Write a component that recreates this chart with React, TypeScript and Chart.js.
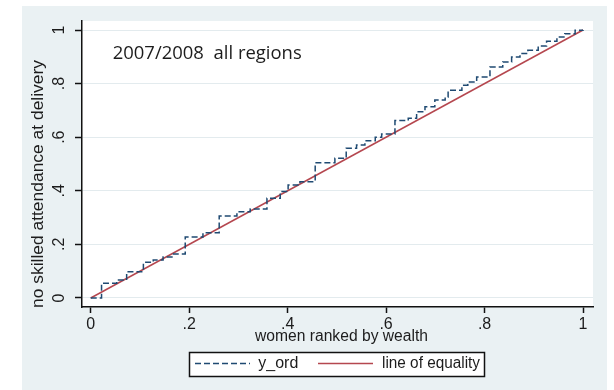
import { useEffect, useRef } from "react";
import { Chart, registerables } from "chart.js";

Chart.register(...registerables);

// Concentration curve: cumulative share of women with no skilled attendance,
// ranked by wealth (step points: x = rank, y = cumulative share)
const rankX = [
  0, 0.022, 0.053, 0.073, 0.107, 0.127, 0.147, 0.165, 0.192, 0.228,
  0.261, 0.297, 0.324, 0.358, 0.385, 0.401, 0.425, 0.456, 0.496, 0.519,
  0.54, 0.557, 0.578, 0.591, 0.618, 0.645, 0.662, 0.679, 0.699, 0.72,
  0.726, 0.754, 0.766, 0.784, 0.811, 0.837, 0.855, 0.872, 0.888, 0.909,
  0.926, 0.947, 0.963, 0.984, 1.0,
];
const cumShare = [
  0, 0.055, 0.067, 0.098, 0.133, 0.142, 0.153, 0.164, 0.228, 0.243,
  0.306, 0.322, 0.332, 0.372, 0.397, 0.422, 0.434, 0.505, 0.521, 0.559,
  0.571, 0.587, 0.6, 0.612, 0.662, 0.671, 0.695, 0.714, 0.739, 0.75,
  0.775, 0.794, 0.806, 0.825, 0.862, 0.881, 0.899, 0.912, 0.924, 0.94,
  0.958, 0.974, 0.986, 0.999, 1.0,
];
const equalityX = [0, 1];
const equalityY = [0, 1];

const tickValues = [0, 0.2, 0.4, 0.6, 0.8, 1];
const tickLabels = ["0", ".2", ".4", ".6", ".8", "1"];

const seriesNames = ["y_ord", "line of equality"];
const titleText = "2007/2008  all regions";
const xTitle = "women ranked by wealth";
const yTitle = "no skilled attendance at delivery";

const W = 614;
const H = 390;
const TEXT = "#1c1c1c";
const AXIS_FONT = "16px 'Liberation Sans', Arial, sans-serif";

function fitText(
  ctx: CanvasRenderingContext2D,
  text: string,
  x: number,
  y: number,
  width: number,
  font: string,
  align: CanvasTextAlign,
  baseline: CanvasTextBaseline,
  rotate = 0
) {
  ctx.save();
  ctx.font = font;
  const w = ctx.measureText(text).width;
  ctx.translate(x, y);
  if (rotate) ctx.rotate(rotate);
  ctx.scale(width / w, 1);
  ctx.textAlign = align;
  ctx.textBaseline = baseline;
  ctx.fillStyle = TEXT;
  ctx.fillText(text, 0, 0);
  ctx.restore();
}

const panelPlugin = {
  id: "panel",
  beforeDraw(chart: any) {
    const { ctx, chartArea: a } = chart;
    ctx.save();
    ctx.fillStyle = "#ffffff";
    ctx.fillRect(0, 0, W, H);
    ctx.fillStyle = "#eaf1f3";
    ctx.fillRect(22, 6, 585, H - 6);
    ctx.fillStyle = "#ffffff";
    ctx.fillRect(a.left, a.top, a.right - a.left, a.bottom - a.top);
    ctx.restore();
  },
};

const textPlugin = {
  id: "texts",
  afterDraw(chart: any) {
    const { ctx } = chart;
    const xs = chart.scales.x;
    const ys = chart.scales.y;

    ctx.save();
    ctx.font = AXIS_FONT;
    ctx.fillStyle = TEXT;
    ctx.textAlign = "center";
    ctx.textBaseline = "middle";
    tickValues.forEach((v, i) => {
      ctx.fillText(tickLabels[i], xs.getPixelForValue(v), 325);
    });
    tickValues.forEach((v, i) => {
      ctx.save();
      ctx.translate(60, ys.getPixelForValue(v));
      ctx.rotate(-Math.PI / 2);
      ctx.fillText(tickLabels[i], 0, 0);
      ctx.restore();
    });
    ctx.restore();

    fitText(ctx, xTitle, 341.5, 341, 173, AXIS_FONT, "center", "alphabetic");
    fitText(ctx, yTitle, 39, 184, 248, AXIS_FONT, "center", "middle", -Math.PI / 2);
    fitText(ctx, titleText, 112.7, 59, 189, "19px 'Open Sans', sans-serif", "left", "alphabetic");

    // legend box
    ctx.save();
    ctx.fillStyle = "#ffffff";
    ctx.fillRect(189, 352, 295, 24);
    ctx.strokeStyle = "#111111";
    ctx.lineWidth = 1.5;
    ctx.strokeRect(189.5, 352.5, 295, 24);
    const items = [
      { x0: 195, x1: 250, tx: 258.3, tw: 40 },
      { x0: 318, x1: 373, tx: 382, tw: 98 },
    ];
    items.forEach((it, i) => {
      const ds = chart.data.datasets[i];
      ctx.save();
      ctx.strokeStyle = ds.borderColor;
      ctx.lineWidth = ds.borderWidth;
      ctx.setLineDash(ds.borderDash || []);
      ctx.beginPath();
      ctx.moveTo(it.x0, 363.5);
      ctx.lineTo(it.x1, 363.5);
      ctx.stroke();
      ctx.restore();
      fitText(ctx, seriesNames[i], it.tx, 364, it.tw, AXIS_FONT, "left", "middle");
    });
    ctx.restore();
  },
};

export default function App() {
  const ref = useRef<HTMLCanvasElement | null>(null);

  useEffect(() => {
    if (!ref.current) return;
    const chart = new Chart(ref.current, {
      type: "line",
      data: {
        datasets: [
          {
            label: seriesNames[0],
            data: rankX.map((x, i) => ({ x, y: cumShare[i] })),
            stepped: "before",
            borderColor: "#1f4a72",
            borderWidth: 1.5,
            borderDash: [6, 3],
            pointRadius: 0,
            fill: false,
          },
          {
            label: seriesNames[1],
            data: equalityX.map((x, i) => ({ x, y: equalityY[i] })),
            borderColor: "#b5474f",
            borderWidth: 1.5,
            pointRadius: 0,
            fill: false,
          },
        ],
      },
      options: {
        responsive: false,
        animation: false,
        devicePixelRatio: 1,
        layout: { padding: { left: 22, top: 21, right: 21, bottom: 0 } },
        plugins: { legend: { display: false }, tooltip: { enabled: false } },
        scales: {
          x: {
            type: "linear",
            min: -0.0177,
            max: 1.0203,
            afterBuildTicks: (s: any) => {
              s.ticks = tickValues.map((value) => ({ value }));
            },
            afterFit: (s: any) => {
              s.height = 83;
            },
            ticks: { display: false },
            grid: {
              drawOnChartArea: false,
              tickColor: "#111111",
              tickLength: 6,
              tickWidth: 1.5,
            },
            border: { color: "#111111", width: 1.5 },
          },
          y: {
            type: "linear",
            min: -0.0336,
            max: 1.0336,
            afterBuildTicks: (s: any) => {
              s.ticks = tickValues.map((value) => ({ value }));
            },
            afterFit: (s: any) => {
              s.width = 60;
            },
            ticks: { display: false },
            grid: {
              color: "#e3ebee",
              lineWidth: 1,
              tickColor: "#111111",
              tickLength: 7,
              tickWidth: 1.5,
            },
            border: { color: "#111111", width: 1.5 },
          },
        },
      },
      plugins: [panelPlugin, textPlugin],
    });
    return () => chart.destroy();
  }, []);

  return (
    <div style={{ position: "fixed", left: 0, top: 0, width: W, height: H }}>
      <canvas ref={ref} width={W} height={H} style={{ display: "block" }} />
    </div>
  );
}
